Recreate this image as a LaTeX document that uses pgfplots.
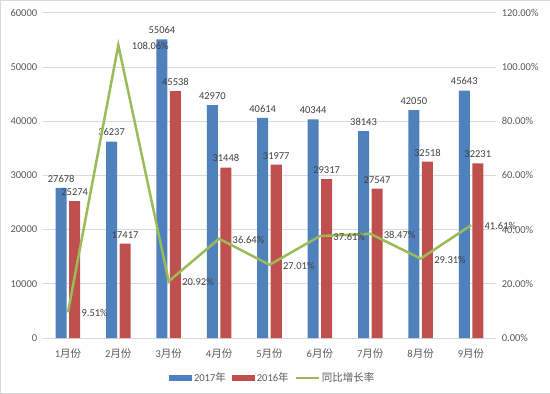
\documentclass[border=0pt]{standalone}
\usepackage{pgfplots}
\pgfplotsset{compat=1.18}
\usepackage{fontspec}
\setmainfont{Carlito}
\newfontfamily\cjk{Noto Sans CJK SC}
\definecolor{c17}{HTML}{4F81BD}
\definecolor{c16}{HTML}{C0504D}
\definecolor{cg}{HTML}{9BBB59}
\definecolor{tx}{HTML}{595959}
\definecolor{lb}{HTML}{404040}
\definecolor{gl}{HTML}{D9D9D9}
\newcommand{\fs}{\fontsize{10.5}{12}\selectfont}
\begin{document}
\begin{tikzpicture}[x=1pt,y=1pt]
\draw[gl] (0.5,0.5) rectangle (549.5,393.5);
\begin{axis}[
  at={(43pt,56pt)}, anchor=south west, scale only axis,
  width=453pt, height=325pt,
  xmin=-0.5, xmax=8.5, ymin=0, ymax=60000,
  xtick={0,...,8},
  xticklabels={1{\cjk 月份},2{\cjk 月份},3{\cjk 月份},4{\cjk 月份},5{\cjk 月份},6{\cjk 月份},7{\cjk 月份},8{\cjk 月份},9{\cjk 月份}},
  ytick={0,10000,...,60000},
  scaled y ticks=false,
  ymajorgrids, grid style={gl, line width=0.8pt},
  axis line style={draw=none},
  tick style={draw=none},
  ticklabel style={font=\fs, text=tx},
  xticklabel style={yshift=-3pt},
  yticklabel style={xshift=-2pt},
  /pgf/number format/assume math mode=true,
  /pgf/number format/1000 sep={},
  ybar, bar width=11pt,
  nodes near coords,
  nodes near coords style={font=\fs, text=lb, yshift=2pt, /pgf/number format/1000 sep={}},
  legend style={at={(0.507,-0.123)}, anchor=center, draw=none, fill=none,
    legend columns=3, font=\fs, text=tx,
    /tikz/every even column/.append style={column sep=4pt}},
  legend cell align=left,
]
\addplot[fill=c17, draw=none, bar shift=-6.75pt,
  legend image code/.code={\fill[c17] (0pt,-3pt) rectangle (23pt,3pt);}]
  coordinates {(0,27678) (1,36237) (2,55064) (3,42970) (4,40614) (5,40344) (6,38143) (7,42050) (8,45643)};
\addlegendentry{2017{\cjk 年}}
\addplot[fill=c16, draw=none, bar shift=6.75pt,
  legend image code/.code={\fill[c16] (0pt,-3pt) rectangle (23pt,3pt);}]
  coordinates {(0,25274) (1,17417) (2,45538) (3,31448) (4,31977) (5,29317) (6,27547) (7,32518) (8,32231)};
\addlegendentry{2016{\cjk 年}}
\addlegendimage{legend image code/.code={\draw[cg, line width=2pt] (0pt,0pt) -- (23pt,0pt);}}
\addlegendentry{{\cjk 同比增长率}}
\end{axis}
\begin{axis}[
  at={(43pt,56pt)}, anchor=south west, scale only axis,
  width=453pt, height=325pt,
  xmin=-0.5, xmax=8.5, ymin=0, ymax=120,
  axis y line*=right, axis x line=none,
  axis line style={draw=none},
  tick style={draw=none},
  ytick={0,20,...,120},
  yticklabel={\pgfmathprintnumber[fixed,fixed zerofill,precision=2]{\tick}\%},
  ticklabel style={font=\fs, text=tx},
  yticklabel style={xshift=2pt},
  /pgf/number format/assume math mode=true,
]
\addplot[cg, line width=2.5pt, point meta=y,
  nodes near coords={\pgfmathprintnumber[fixed,fixed zerofill,precision=2]{\pgfplotspointmeta}\%},
  nodes near coords style={font=\fs, text=lb, anchor=west, xshift=9pt, yshift=-1pt, /pgf/number format/assume math mode=true}]
  coordinates {(0,9.51) (1,108.06) (2,20.92) (3,36.64) (4,27.01) (5,37.61) (6,38.47) (7,29.31) (8,41.61)};
\end{axis}
\end{tikzpicture}
\end{document}
